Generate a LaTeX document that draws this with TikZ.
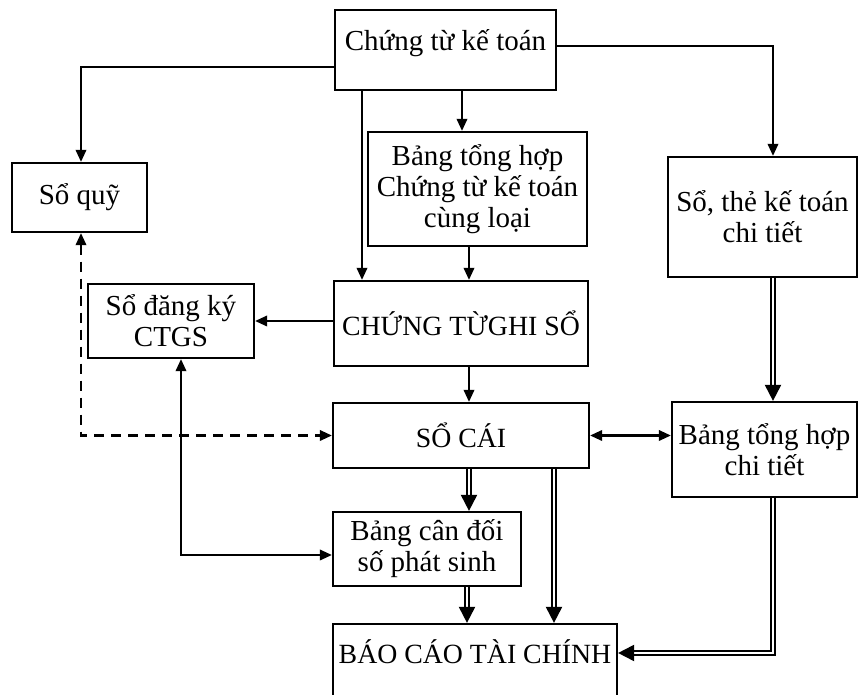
\documentclass[tikz,border=0pt]{standalone}
\usepackage{fontspec}
\setmainfont{Liberation Serif}
\usetikzlibrary{arrows.meta}
\tikzset{every node/.style={font=\fontsize{14.5}{15.5}\selectfont}}
\tikzset{
  box/.style={draw, line width=1.1pt, align=center, inner sep=0pt},
  caps/.style={font=\fontsize{13.9}{15}\selectfont},
  arr/.style={line width=1.1pt, -{Triangle[length=6pt,width=5.2pt]}},
  biarr/.style={line width=1.1pt,
    {Triangle[length=6pt,width=5.2pt]}-{Triangle[length=6pt,width=5.2pt]}},
  dbl/.style={double, double distance=1.4pt, line width=1pt,
    -{Triangle[length=8pt,width=8pt]}}
}
\colorlet{linecol}{black}

\begin{document}
\begin{tikzpicture}[x=0.5pt, y=-0.5pt, linecol]

  \useasboundingbox (0,0) rectangle (859,695);

  % Boxes.
  \node[box, minimum width=110.5pt, minimum height=40pt, text depth=10pt] (ctkt)
    at (445.5,50) {Chứng từ kế toán};
  \node[box, minimum width=67.5pt, minimum height=34.5pt] (soquy) at (79.5,197.5)
    {Sổ quỹ};
  \node[box, minimum width=109.5pt, minimum height=57pt] (bangth) at (477.5,189)
    {Bảng tổng hợp\\Chứng từ kế toán\\cùng loại};
  \node[box, minimum width=94.5pt, minimum height=60pt] (sothe) at (762.5,217)
    {Sổ, thẻ kế toán\\chi tiết};
  \node[box, minimum width=83pt, minimum height=37pt] (sodk) at (171,321)
    {Sổ đăng ký\\CTGS};
  \node[box, caps, minimum width=127pt, minimum height=42.5pt, text depth=0pt] (ctgs)
    at (461,323.5) {CHỨNG TỪGHI SỔ};
  \node[box, caps, minimum width=128pt, minimum height=32.5pt] (socai) at (461,435.5)
    {SỔ CÁI};
  \node[box, minimum width=92.5pt, minimum height=47.5pt] (bangthct) at (764.5,449.5)
    {Bảng tổng hợp\\chi tiết};
  \node[box, minimum width=94pt, minimum height=37pt] (bangcd) at (427,549)
    {Bảng cân đối\\số phát sinh};
  \node[box, caps, minimum width=142pt, minimum height=38pt, text depth=10pt] (bctc)
    at (475,662) {BÁO CÁO TÀI CHÍNH};

  % Helper points for the routing.
  \coordinate (qL) at (81,67);
  \coordinate (qR) at (773,46);
  \coordinate (xa) at (362,0);
  \coordinate (xb) at (462,0);
  \coordinate (xc) at (469,0);
  \coordinate (xd) at (554,0);
  \coordinate (xe) at (467,0);
  \coordinate (xs) at (181,555);
  \coordinate (yb) at (773,653);

  % Thin arrows from the vouchers.
  \draw[arr] (ctkt.west |- qL) -| (qL |- soquy.north);
  \draw[arr] (ctkt.east |- qR) -| (qR |- sothe.north);
  \draw[arr] (ctkt.south -| xa) -- (ctgs.north -| xa);
  \draw[arr] (ctkt.south -| xb) -- (bangth.north -| xb);
  \draw[arr] (bangth.south -| xc) -- (ctgs.north -| xc);
  \draw[arr] (ctgs.west |- sodk.east) -- (sodk.east);
  \draw[arr] (ctgs.south -| xc) -- (socai.north -| xc);

  % Two-way links.
  \draw[biarr] (socai.east) -- (socai.east -| bangthct.west);
  \draw[biarr] (sodk.south -| xs) |- (bangcd.west |- xs);
  \draw[biarr, dash pattern=on 5pt off 3.5pt] (qL |- soquy.south) |- (socai.west);

  % Double arrows.
  \draw[dbl] (sothe.south -| qR) -- (bangthct.north -| qR);
  \draw[dbl] (socai.south -| xc) -- (bangcd.north -| xc);
  \draw[dbl] (socai.south -| xd) -- (bctc.north -| xd);
  \draw[dbl] (bangcd.south -| xe) -- (bctc.north -| xe);
  \draw[dbl] (bangthct.south -| yb) |- (bctc.east |- yb);

\end{tikzpicture}
\end{document}
